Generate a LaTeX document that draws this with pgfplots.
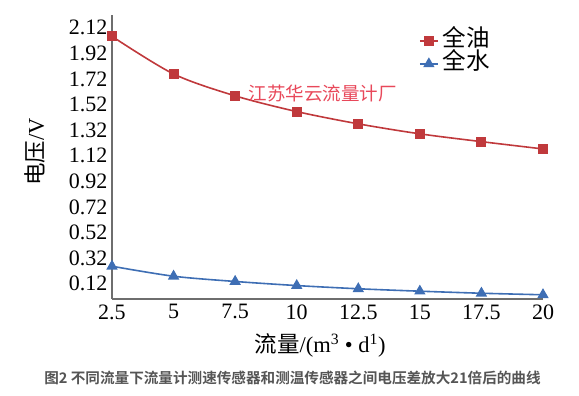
\documentclass[border=0pt]{standalone}
\usepackage{fontspec}
\setmainfont{Liberation Serif}
\newfontfamily\cjk{Noto Sans CJK SC}[BoldFont={Noto Sans CJK SC Bold}]
\usepackage{pgfplots}
\pgfplotsset{compat=1.18}
\definecolor{oilred}{RGB}{192,57,60}
\definecolor{waterblue}{RGB}{62,110,180}
\definecolor{wmred}{RGB}{232,72,90}
\definecolor{axgray}{RGB}{110,110,110}
\definecolor{capgray}{RGB}{85,85,85}
\begin{document}
\begin{tikzpicture}
\path[use as bounding box] (0,0) rectangle (579pt,396pt);
\begin{axis}[
  at={(112pt,97pt)}, anchor=south west,
  scale only axis, width=431pt, height=284pt,
  xmin=2.5, xmax=20, ymin=0, ymax=2.22,
  axis x line*=bottom, axis y line*=left,
  axis line style={axgray, line width=1.4pt},
  major tick length=0pt,
  xtick={2.5,5,7.5,10,12.5,15,17.5,20},
  xticklabels={2.5,5,7.5,10,12.5,15,17.5,20},
  ytick={0.12,0.32,0.52,0.72,0.92,1.12,1.32,1.52,1.72,1.92,2.12},
  yticklabels={0.12,0.32,0.52,0.72,0.92,1.12,1.32,1.52,1.72,1.92,2.12},
  tick label style={font=\fontsize{22}{24}\selectfont, black},
  xticklabel style={yshift=-2pt},
  yticklabel style={xshift=-1pt},
  /pgf/number format/assume math mode=true,
  xlabel={\cjk 流量\rmfamily/(m\textsuperscript{3} • d\textsuperscript{1})},
  xlabel style={at={(axis description cs:0.483,-0.162)}, anchor=center, font=\fontsize{22.5}{24}\selectfont},
  ylabel={\cjk 电压\rmfamily/V},
  ylabel style={at={(axis description cs:-0.178,0.518)}, anchor=center, rotate=0, font=\fontsize{22.5}{24}\selectfont},
  legend style={draw=none, fill=none, at={(axis description cs:0.712,0.950)}, anchor=north west,
    font=\cjk\fontsize{23.5}{25}\selectfont, row sep=0pt, inner sep=0pt,
    nodes={inner xsep=4pt, inner ysep=0pt, text height=17pt, text depth=6pt}},
  legend image code/.code={
    \draw[mark repeat=2,mark phase=2,#1] plot coordinates {(0pt,0pt) (9pt,0pt) (18pt,0pt)};},
  legend cell align=left,
  clip=false,
]
\addplot[oilred, line width=1.6pt, smooth, mark=square*, mark size=4.2pt, mark options={solid, fill=oilred}]
  coordinates {(2.5,2.053) (5,1.759) (7.5,1.588) (10,1.465) (12.5,1.369) (15,1.291) (17.5,1.230) (20,1.173)};
\addlegendentry{全油}
\addplot[waterblue, line width=1.6pt, smooth, mark=triangle*, mark size=5pt, mark options={solid, fill=waterblue}]
  coordinates {(2.5,0.256) (5,0.178) (7.5,0.137) (10,0.105) (12.5,0.080) (15,0.061) (17.5,0.045) (20,0.033)};
\addlegendentry{全水}
\node[wmred, font=\cjk\fontsize{18.5}{20}\selectfont] at (axis cs:11.05,1.61) {江苏华云流量计厂};
\end{axis}
\node[capgray, font=\cjk\bfseries\fontsize{14.6}{16}\selectfont, anchor=center] at (292.5pt,18pt) {图2 不同流量下流量计测速传感器和测温传感器之间电压差放大21倍后的曲线};
\end{tikzpicture}
\end{document}
